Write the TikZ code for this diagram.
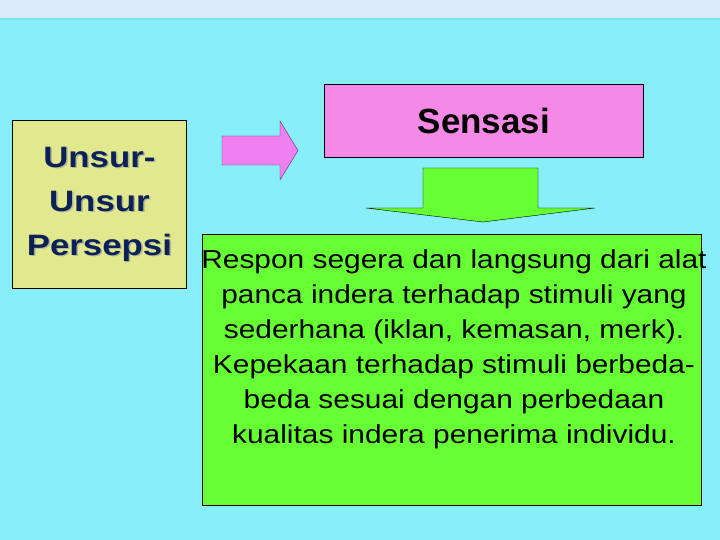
\documentclass[tikz,border=0pt]{standalone}
\usepackage{fontspec}
\setmainfont{Liberation Sans}
\newfontfamily\widesans[FakeStretch=1.18]{Liberation Sans}
\newfontfamily\bodysans[FakeStretch=1.15]{Liberation Sans}

\definecolor{bgcyan}{RGB}{136,238,248}
\definecolor{topband}{RGB}{218,234,248}
\definecolor{bandline}{RGB}{120,228,240}
\definecolor{unsuryellow}{RGB}{226,232,142}
\definecolor{sensasipink}{RGB}{245,137,232}
\definecolor{arrowpink}{RGB}{240,128,240}
\definecolor{responsgreen}{RGB}{102,255,51}
\definecolor{navytext}{RGB}{12,34,87}
\definecolor{shadowgray}{RGB}{176,182,150}

\begin{document}
\begin{tikzpicture}[x=1pt,y=-1pt,
  box/.style={draw=black,line width=0.8pt,inner sep=0pt,anchor=north west},
  unsurtext/.style={align=center,font=\widesans\bfseries\fontsize{29.5}{44}\selectfont}]
\useasboundingbox (0,0) rectangle (720,540);
\fill[bgcyan] (0,0) rectangle (720,540);
\fill[topband] (0,0) rectangle (720,18);
\fill[bandline] (0,18) rectangle (720,20);

% left box
\node[box,fill=unsuryellow,minimum width=174pt,minimum height=168pt] (unsur) at (12,120) {};
\node[unsurtext,text=shadowgray] (unsurshadow) at ([xshift=1.5pt,yshift=-1.5pt]unsur.center) {Unsur-\\Unsur\\Persepsi};
\node[unsurtext,text=navytext] (unsurlabel) at (unsur.center) {Unsur-\\Unsur\\Persepsi};

% sensasi
\node[box,fill=sensasipink,minimum width=319pt,minimum height=73pt] (sensasi) at (324,84) {};
\node[font=\bfseries\fontsize{35}{40}\selectfont] (sensasilabel) at (sensasi.center) {Sensasi};

% arrows
\draw[arrowpink!40!black,fill=arrowpink] (222,136) -- (280,136) -- (280,121) -- (298,150.5)
    -- (280,180) -- (280,165) -- (222,165) -- cycle;
\draw[black,fill=responsgreen] (423,168) -- (538,168) -- (538,208) -- (595,208)
    -- (483,222) -- (366,208) -- (423,208) -- cycle;

% respon
\node[box,fill=responsgreen,minimum width=499pt,minimum height=271pt] (respon) at (202,234) {};
\node[anchor=north,inner sep=0pt,align=center,font=\bodysans\fontsize{26}{35}\selectfont] (responlabel)
    at (454,249) {Respon segera dan langsung dari alat\\panca indera terhadap stimuli yang\\
    sederhana (iklan, kemasan, merk).\\Kepekaan terhadap stimuli berbeda-\\
    beda sesuai dengan perbedaan\\kualitas indera penerima individu.};
\end{tikzpicture}
\end{document}
